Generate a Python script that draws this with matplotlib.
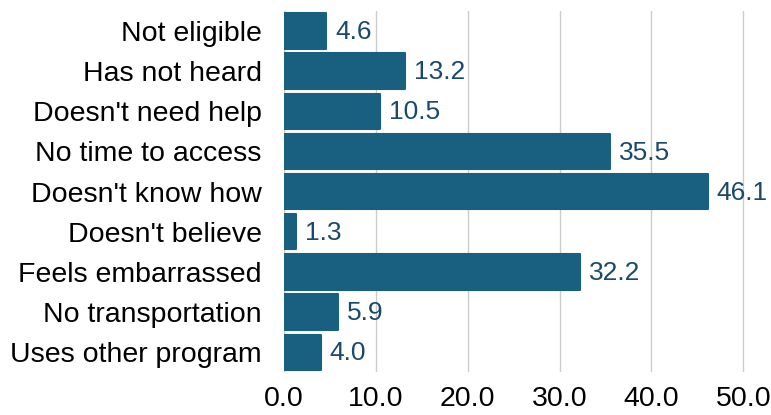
import matplotlib
matplotlib.use('Agg')
import matplotlib.pyplot as plt

# reasons (top to bottom) and their share in percent
reasons = ["Not eligible", "Has not heard", "Doesn't need help", "No time to access",
           "Doesn't know how", "Doesn't believe", "Feels embarrassed",
           "No transportation", "Uses other program"]
values = [4.6, 13.2, 10.5, 35.5, 46.1, 1.3, 32.2, 5.9, 4.0]
xticks = [0, 10, 20, 30, 40, 50]

bar_color = '#185f80'
label_color = '#1a4a6b'

plt.rcParams['font.family'] = ['Liberation Sans', 'DejaVu Sans']

fig = plt.figure(figsize=(7.71, 4.15), dpi=100)
ax = fig.add_axes([0.368, 0.103, 0.632, 0.871])

pos = list(range(len(reasons)))
bars = ax.barh(pos, values, height=0.88, color=bar_color, edgecolor=bar_color,
               linewidth=1.5, zorder=2)
for b in bars:
    b.set_joinstyle('round')

for p, v in zip(pos, values):
    ax.text(v + 1.0, p + 0.03, f"{v:.1f}", va='center', ha='left',
            fontsize=19, color=label_color, zorder=3)

ax.set_yticks(pos)
ax.set_yticklabels(reasons, fontsize=20.5)
ax.set_xticks(xticks)
ax.set_xticklabels([f"{t:.1f}" for t in xticks], fontsize=20.5)
ax.set_xlim(0, 53)
ax.set_ylim(len(reasons) - 0.5, -0.5)

ax.tick_params(axis='y', length=0, pad=16)
ax.tick_params(axis='x', length=0, pad=10)
ax.grid(axis='x', color='#cccccc', linewidth=1, zorder=0)
ax.set_axisbelow(True)
for s in ax.spines.values():
    s.set_visible(False)

fig.savefig('out.png', dpi=100, facecolor='white')
